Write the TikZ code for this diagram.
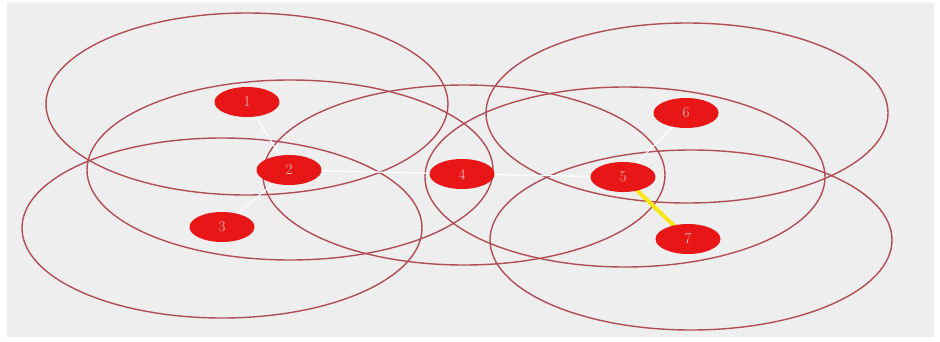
\documentclass[tikz,border=0pt]{standalone}
\usetikzlibrary{shapes.geometric}
\definecolor{bgray}{RGB}{238,238,238}
\definecolor{ringred}{RGB}{176,78,86}
\definecolor{nodered}{RGB}{232,22,22}
\definecolor{labpink}{RGB}{245,200,200}
\definecolor{linkyellow}{RGB}{245,230,20}
\tikzset{
  ring/.style={draw=ringred, line width=1.4pt},
  sensor/.style={ellipse, fill=nodered, draw=none, minimum width=65pt, minimum height=30pt, inner sep=0pt, text=labpink, font=\fontsize{15}{15}\selectfont},
  wlink/.style={draw=white, line width=1.2pt},
  ylink/.style={draw=linkyellow, line width=4pt}
}
\begin{document}
\begin{tikzpicture}[x=1pt,y=-1pt]
\useasboundingbox (0,0) rectangle (940,341);
\fill[white] (0,0) rectangle (940,341);
\fill[bgray] (7,3) rectangle (934,337);
% coverage rings
\draw[ring] (247,104) ellipse [x radius=201, y radius=91];
\draw[ring] (290,170) ellipse [x radius=203, y radius=90];
\draw[ring] (222,228) ellipse [x radius=200, y radius=90];
\draw[ring] (464,175) ellipse [x radius=201, y radius=90];
\draw[ring] (625,177) ellipse [x radius=200, y radius=90];
\draw[ring] (687,113) ellipse [x radius=201, y radius=90];
\draw[ring] (691,240) ellipse [x radius=201, y radius=90];
% nodes
\coordinate (p1) at (247,102);
\coordinate (p2) at (289,170);
\coordinate (p3) at (222,227);
\coordinate (p4) at (462,174);
\coordinate (p5) at (623,177);
\coordinate (p6) at (686,113);
\coordinate (p7) at (688,239);
\draw[wlink] (p1) -- (p2);
\draw[wlink] (p2) -- (p3);
\draw[wlink] (p2) -- (p4);
\draw[wlink] (p4) -- (p5);
\draw[wlink] (p5) -- (p6);
\draw[ylink] (p5) -- (p7);
\node[sensor] (n1) at (p1) {1};
\node[sensor] (n2) at (p2) {2};
\node[sensor] (n3) at (p3) {3};
\node[sensor] (n4) at (p4) {4};
\node[sensor] (n5) at (p5) {5};
\node[sensor] (n6) at (p6) {6};
\node[sensor] (n7) at (p7) {7};
\end{tikzpicture}
\end{document}
